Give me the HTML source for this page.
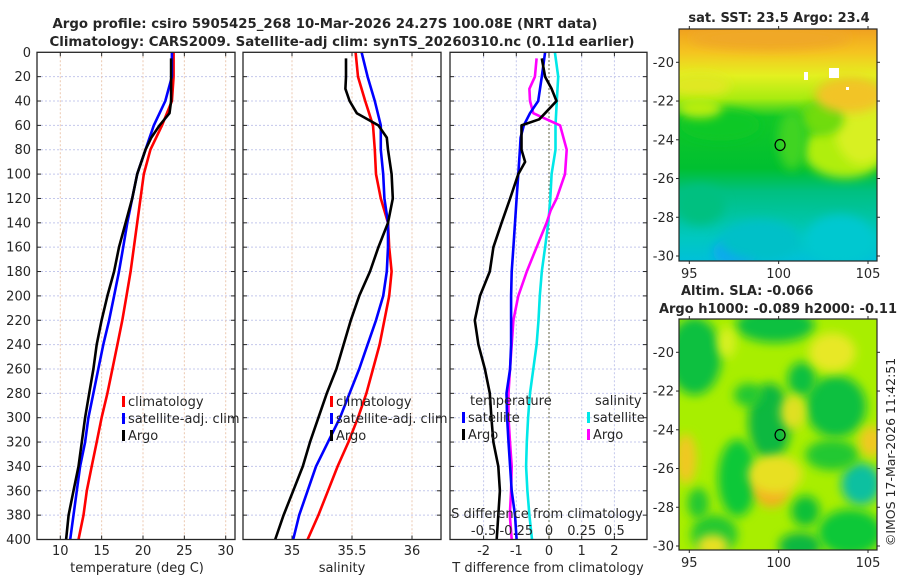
<!DOCTYPE html>
<html><head><meta charset="utf-8"><style>
html,body{margin:0;padding:0;background:#fff;}
svg{display:block;font-family:"DejaVu Sans","Liberation Sans",sans-serif;}
text{fill:#262626;}
</style></head><body>
<svg id="fig" width="900" height="580" viewBox="0 0 900 580" xmlns="http://www.w3.org/2000/svg">
<defs>
<filter id="blur6" x="-50%" y="-50%" width="200%" height="200%"><feGaussianBlur stdDeviation="5"/></filter>
<filter id="blur3" x="-50%" y="-50%" width="200%" height="200%"><feGaussianBlur stdDeviation="3"/></filter>
<clipPath id="clipTop"><rect x="679" y="29" width="198" height="232"/></clipPath>
<clipPath id="clipBot"><rect x="679" y="319" width="198" height="231"/></clipPath>
<clipPath id="clipP1"><rect x="37" y="52" width="198" height="488"/></clipPath>
<clipPath id="clipP2"><rect x="243" y="52" width="198" height="488"/></clipPath>
<clipPath id="clipP3"><rect x="450" y="52" width="197" height="488"/></clipPath>
<linearGradient id="sstGrad" x1="0" y1="0" x2="0" y2="1">
<stop offset="0" stop-color="#f0a020"/><stop offset="0.1" stop-color="#f5c420"/>
<stop offset="0.2" stop-color="#e4f020"/><stop offset="0.3" stop-color="#a8ec10"/>
<stop offset="0.38" stop-color="#10c828"/><stop offset="0.6" stop-color="#00c030"/>
<stop offset="0.7" stop-color="#00c080"/><stop offset="0.9" stop-color="#00c8c0"/>
<stop offset="1" stop-color="#00c0d8"/></linearGradient>
</defs>
<text x="325" y="28" font-size="13" font-weight="bold" text-anchor="middle" textLength="545" lengthAdjust="spacingAndGlyphs">Argo profile: csiro 5905425_268 10-Mar-2026 24.27S 100.08E (NRT data)</text>
<text x="342" y="46" font-size="13" font-weight="bold" text-anchor="middle" textLength="585" lengthAdjust="spacingAndGlyphs">Climatology: CARS2009. Satellite-adj clim: synTS_20260310.nc (0.11d earlier)</text>
<g id="panels"></g>
<g id="maps"></g>
<text transform="translate(895,452) rotate(-90)" font-size="12.5" text-anchor="middle">©IMOS 17-Mar-2026 11:42:51</text>
</svg>
<script>
// ---------- data ----------
const depthStd = [0,20,40,60,80,100,120,140,160,180,200,220,240,260,280,300,320,340,360,380,400];
const depthTicks = [0,20,40,60,80,100,120,140,160,180,200,220,240,260,280,300,320,340,360,380,400];
const tempClim = [23.7,23.7,23.5,22.3,20.9,20.1,19.7,19.3,18.9,18.5,18.0,17.5,16.9,16.3,15.7,15.0,14.4,13.8,13.2,12.8,12.2];
const tempSat = [23.5,23.5,22.7,21.3,20.3,19.3,18.7,18.1,17.6,17.1,16.5,15.9,15.2,14.6,14.0,13.4,13.0,12.4,12.0,11.6,11.2];
const argoTDepth = [5,20,40,50,60,70,80,100,120,140,160,180,200,220,240,260,280,300,320,340,360,380,400];
const tempArgo = [23.4,23.4,23.4,23.2,22.0,21.0,20.3,19.3,18.7,17.9,17.1,16.5,15.7,15.0,14.4,14.0,13.5,13.0,12.6,12.2,11.6,11.0,10.7];
const salClim = [35.53,35.55,35.61,35.675,35.69,35.70,35.74,35.80,35.81,35.83,35.81,35.77,35.73,35.675,35.62,35.55,35.47,35.38,35.30,35.22,35.13];
const salSat = [35.58,35.63,35.69,35.74,35.74,35.76,35.77,35.80,35.80,35.79,35.76,35.70,35.63,35.56,35.48,35.40,35.30,35.20,35.13,35.06,35.01];
const argoSDepth = [5,20,30,40,50,60,70,80,100,120,140,160,180,200,220,240,260,280,300,320,340,360,380,400];
const salArgo = [35.45,35.45,35.445,35.48,35.54,35.72,35.79,35.80,35.83,35.84,35.80,35.72,35.65,35.56,35.49,35.43,35.37,35.29,35.22,35.15,35.09,35.01,34.93,34.86];
const dTsatDepth = [0,20,40,50,60,70,80,100,120,140,160,180,200,220,240,260,280,300,320,340,360,380,400];
const dTsat = [-0.12,-0.22,-0.33,-0.58,-0.77,-0.87,-0.89,-0.94,-0.99,-1.04,-1.09,-1.14,-1.16,-1.16,-1.16,-1.19,-1.30,-1.28,-1.24,-1.19,-1.14,-1.04,-0.99];
const dTargoDepth = [5,20,30,40,50,55,60,80,90,100,120,140,160,180,200,220,240,260,280,300,320,340,360,380,400];
const dTargo = [-0.22,-0.12,0.08,0.23,-0.12,-0.3,-0.84,-0.84,-0.73,-0.94,-1.19,-1.45,-1.70,-1.81,-2.11,-2.27,-2.16,-1.96,-1.81,-1.76,-1.70,-1.55,-1.50,-1.55,-1.60];
const dSsat = [0.045,0.07,0.06,0.05,0.05,0.02,0.01,-0.005,-0.03,-0.055,-0.07,-0.08,-0.095,-0.12,-0.145,-0.16,-0.17,-0.175,-0.165,-0.15,-0.13];
const dSargoDepth = [5,20,30,40,50,55,60,80,100,120,130,140,160,180,200,220,240,260,280,300,320,340,360,380,400];
const dSargo = [-0.095,-0.108,-0.15,-0.145,-0.12,-0.018,0.085,0.135,0.122,0.058,0.012,-0.018,-0.095,-0.17,-0.235,-0.272,-0.285,-0.298,-0.31,-0.31,-0.298,-0.285,-0.29,-0.3,-0.285];
const tTicks = [10,15,20,25,30];
const sTicks = [35,35.5,36];
const dTTicks = [-2,-1,0,1,2];
const dSTicks = [-0.5,-0.25,0,0.25,0.5];
const dSTickLabels = ["-0.5","-0.25","0","0.25","0.5"];
const latTicks = [-20,-22,-24,-26,-28,-30];
const lonTicks = [95,100,105];
const argoLon = 100.08, argoLat = -24.27;

// ---------- helpers ----------
const NS = "http://www.w3.org/2000/svg";
function mk(tag, attrs, parent){const e=document.createElementNS(NS,tag);for(const k in attrs)e.setAttribute(k,attrs[k]);parent.appendChild(e);return e;}
const yTop=52.3, yBot=539.5;
const yScale = d => yTop + (d/400)*(yBot-yTop);
function linScale(v0,p0,v1,p1){return v=>p0+(v-v0)*(p1-p0)/(v1-v0);}
const xT = linScale(10,60.3,30,225.7);
const xS = linScale(35,292,36,412);
const xD = linScale(0,549,1,581.7);
const xDS = v => xD(v*4);
const panelsG = document.getElementById('panels');

function panel(name,x0,x1,xs,ticks,tickLabels,showY,clip,vgrid){
  const g=mk('g',{},panelsG);
  
  
  mk('rect',{x:x0,y:yTop,width:x1-x0,height:yBot-yTop,fill:'#fff'},g);
  depthTicks.forEach(d=>{
    if(d===0||d===400)return;
    const l=mk('line',{x1:x0,x2:x1,y1:yScale(d),y2:yScale(d),stroke:'#c4c8ec','stroke-width':1,'stroke-dasharray':'2,2'},g);
    
    
    mk('line',{x1:x0,x2:x0+4,y1:yScale(d),y2:yScale(d),stroke:'#262626'},g);
    mk('line',{x1:x1-4,x2:x1,y1:yScale(d),y2:yScale(d),stroke:'#262626'},g);
  });
  ticks.forEach((t,i)=>{
    const x=xs(t);
    const l=mk('line',{x1:x,x2:x,y1:yTop,y2:yBot,stroke:vgrid,'stroke-width':1,'stroke-dasharray':'2,2'},g);
    
    
    mk('line',{x1:x,x2:x,y1:yBot-4,y2:yBot,stroke:'#262626'},g);
    mk('line',{x1:x,x2:x,y1:yTop,y2:yTop+4,stroke:'#262626'},g);
    const tx=mk('text',{x:x,y:555,'font-size':13,'text-anchor':'middle'},g);
    tx.textContent=tickLabels[i];
    
    
  });
  if(showY){
    depthTicks.forEach(d=>{
      const t=mk('text',{x:x0-6,y:yScale(d)+4.5,'font-size':13,'text-anchor':'end'},g);
      t.textContent=d;
      
      
    });
  }
  const lines=mk('g',{'clip-path':'url(#'+clip+')'},g);
  mk('rect',{x:x0,y:yTop,width:x1-x0,height:yBot-yTop,fill:'none',stroke:'#262626','stroke-width':1.3},g);
  return {g,lines};
}
function series(parent,name,depths,vals,xs,color){
  const pts=vals.map((v,i)=>xs(v).toFixed(1)+','+yScale(depths[i]).toFixed(1)).join(' ');
  const p=mk('polyline',{points:pts,fill:'none',stroke:color,'stroke-width':2.6,'stroke-linejoin':'round'},parent);
  
  
}
function legendEntry(parent,x,y,color,label){
  mk('rect',{x:x,y:y-10,width:3,height:11,fill:color},parent);
  const t=mk('text',{x:x+6,y:y,'font-size':13},parent);
  t.textContent=label;
  
  
}
function label(parent,x,y,txt,name,anchor,size){
  const t=mk('text',{x:x,y:y,'font-size':size||13,'text-anchor':anchor||'middle'},parent);
  t.textContent=txt;
  
  
  return t;
}

// Panel 1: temperature
const p1=panel('temperature-panel',37,235,xT,tTicks,tTicks.map(String),true,'clipP1','#ecc8b0');
series(p1.lines,'temp-climatology-line',depthStd,tempClim,xT,'#ff0000');
series(p1.lines,'temp-satellite-line',depthStd,tempSat,xT,'#0000ff');
series(p1.lines,'temp-argo-line',argoTDepth,tempArgo,xT,'#000000');
legendEntry(p1.g,122,406,'#ff0000','climatology');
legendEntry(p1.g,122,423,'#0000ff','satellite-adj. clim');
legendEntry(p1.g,122,440,'#000000','Argo');
label(p1.g,137,572,'temperature (deg C)','x-axis-title-temperature');

// Panel 2: salinity
const p2=panel('salinity-panel',243,441,xS,sTicks,sTicks.map(String),false,'clipP2','#ecc8b0');
series(p2.lines,'sal-climatology-line',depthStd,salClim,xS,'#ff0000');
series(p2.lines,'sal-satellite-line',depthStd,salSat,xS,'#0000ff');
series(p2.lines,'sal-argo-line',argoSDepth,salArgo,xS,'#000000');
legendEntry(p2.g,330,406,'#ff0000','climatology');
legendEntry(p2.g,330,423,'#0000ff','satellite-adj. clim');
legendEntry(p2.g,330,440,'#000000','Argo');
label(p2.g,342,572,'salinity','x-axis-title-salinity');

// Panel 3: differences
const p3=panel('difference-panel',450,647,xD,dTTicks,dTTicks.map(String),false,'clipP3','#c4c8ec');
mk('line',{x1:xD(0),x2:xD(0),y1:yTop,y2:yBot,stroke:'#5a5a30','stroke-width':1.2,'stroke-dasharray':'1.5,2.5'},p3.lines);
series(p3.lines,'dS-satellite-line',depthStd,dSsat,xDS,'#00e8e8');
series(p3.lines,'dS-argo-line',dSargoDepth,dSargo,xDS,'#ff00ff');
series(p3.lines,'dT-satellite-line',dTsatDepth,dTsat,xD,'#0000ff');
series(p3.lines,'dT-argo-line',dTargoDepth,dTargo,xD,'#000000');
label(p3.g,470,405,'temperature','legend-title-temperature','start');
legendEntry(p3.g,462,422,'#0000ff','satellite');
legendEntry(p3.g,462,439,'#000000','Argo');
label(p3.g,595,405,'salinity','legend-title-salinity','start');
legendEntry(p3.g,587,422,'#00e8e8','satellite');
legendEntry(p3.g,587,439,'#ff00ff','Argo');
label(p3.g,547,518,'S difference from climatology','s-axis-title');
dSTicks.forEach((s,i)=>label(p3.g,xDS(s),535,dSTickLabels[i],'s-tick-label'));
label(p3.g,548,572,'T difference from climatology','x-axis-title-tdiff');

// ---------- maps ----------
const mapsG=document.getElementById('maps');
const mlon = linScale(95,689.3,105,868);
function mapFrame(name,y0,y1,latTop,latBot,clip){
  const g=mk('g',{},mapsG);
  
  
  const mlat=linScale(-20,latTop,-30,latBot);
  const inner=mk('g',{'clip-path':'url(#'+clip+')'},g);
  return {g,inner,mlat,y0,y1};
}
// top SST map
const m1=mapFrame('sst-map',29,261,62.3,256,'clipTop');
mk('rect',{x:679,y:29,width:198,height:232,fill:'url(#sstGrad)'},m1.inner);
const sstBlobs=[
 [845,150,42,28,'#b0ee10'],[862,125,28,40,'#d8f020'],[822,118,22,18,'#70dc10'],
 [720,125,40,16,'#08c828'],[792,140,14,30,'#40d420'],[770,38,80,12,'#f0a828'],
 [850,95,35,18,'#f2c428'],[700,85,30,12,'#e0e820'],[735,252,22,14,'#10a8f0'],
 [760,240,40,20,'#00c0c8'],[840,240,35,25,'#00c8d0'],[700,205,25,20,'#00c080'],
 [700,108,22,10,'#b8ee10']];
sstBlobs.forEach(b=>mk('ellipse',{cx:b[0],cy:b[1],rx:b[2],ry:b[3],fill:b[4],filter:'url(#blur6)'},m1.inner));
mk('rect',{x:804,y:72,width:4,height:8,fill:'#fff'},m1.inner);
mk('rect',{x:829,y:68,width:10,height:10,fill:'#fff'},m1.inner);
mk('rect',{x:846,y:87,width:3,height:3,fill:'#fff'},m1.inner);
// bottom SLA map
const m2=mapFrame('sla-map',319,550,352.3,546,'clipBot');
mk('rect',{x:679,y:319,width:198,height:231,fill:'#a8ee00'},m2.inner);
const slaBlobs=[
 [95.3,-20.2,1.5,2.0,'#10c040'],[99.5,-23.6,1.2,2.0,'#10b840'],[103.2,-22.8,1.7,1.6,'#10c040'],
 [97.7,-26.5,1.1,2.0,'#10c838'],[101.5,-28.2,0.8,0.8,'#10c038'],[101.2,-30,1.2,0.7,'#10b840'],
 [104.6,-26.8,1.1,1.1,'#10c0a0'],[99.8,-18.6,2.2,0.9,'#10c040'],[104,-29.3,1.8,1.2,'#10c838'],
 [96.4,-29.4,1.3,1.0,'#20c830'],[101.3,-21.4,0.8,0.9,'#10c040'],[103,-25.3,1.5,0.8,'#20c830'],
 [98.3,-22.2,0.8,0.6,'#20c830'],[95.5,-27.8,0.6,0.8,'#20c830'],
 [99.6,-27,1.0,1.0,'#f4b020'],[99.8,-26.3,1.5,1.0,'#e8e020'],[103,-20,1.3,1.0,'#e8e828'],
 [100.8,-23.1,0.7,0.9,'#e0e020'],[105.2,-24.6,0.7,0.8,'#f0c820'],[94.8,-25.5,0.6,1.3,'#f0c820'],
 [96.3,-30,0.9,0.6,'#e8e020'],[97.1,-19.5,0.5,0.8,'#d8f020']];
slaBlobs.forEach(b=>{
  const cx=mlon(b[0]), cy=m2.mlat(b[1]);
  mk('ellipse',{cx:cx,cy:cy,rx:b[2]*17.9,ry:b[3]*19.4,fill:b[4],filter:'url(#blur6)'},m2.inner);
});
[[m1,'top'],[m2,'bottom']].forEach(([m,pos])=>{
  const x0=679,x1=877;
  mk('rect',{x:x0,y:m.y0,width:x1-x0,height:m.y1-m.y0,fill:'none',stroke:'#262626','stroke-width':1.2},m.g);
  const c=mk('ellipse',{cx:mlon(argoLon),cy:m.mlat(argoLat),rx:5,ry:5.5,fill:'none',stroke:'#000','stroke-width':1.2},m.g);
  
  
  latTicks.forEach(la=>{
    const y=m.mlat(la);
    mk('line',{x1:x0-3,x2:x0,y1:y,y2:y,stroke:'#262626'},m.g);
    mk('line',{x1:x1,x2:x1+3,y1:y,y2:y,stroke:'#262626'},m.g);
    label(m.g,674,y+4.5,String(la),'lat-tick-label','end');
  });
  lonTicks.forEach(lo=>{
    const x=mlon(lo);
    mk('line',{x1:x,x2:x,y1:m.y1,y2:m.y1+3,stroke:'#262626'},m.g);
    mk('line',{x1:x,x2:x,y1:m.y0-3,y2:m.y0,stroke:'#262626'},m.g);
    label(m.g,x,m.y1+17,String(lo),'lon-tick-label');
  });
});
const t1=label(m1.g,779,22,'sat. SST: 23.5 Argo: 23.4','sst-map-title','middle',13);
t1.setAttribute('font-weight','bold');
const t2=label(m2.g,681,295,'Altim. SLA: -0.066','sla-map-title-1','start',13);
t2.setAttribute('font-weight','bold');
const t3=label(m2.g,778,313,'Argo h1000: -0.089 h2000: -0.11','sla-map-title-2','middle',13);
t3.setAttribute('font-weight','bold');
</script>
</body></html>
